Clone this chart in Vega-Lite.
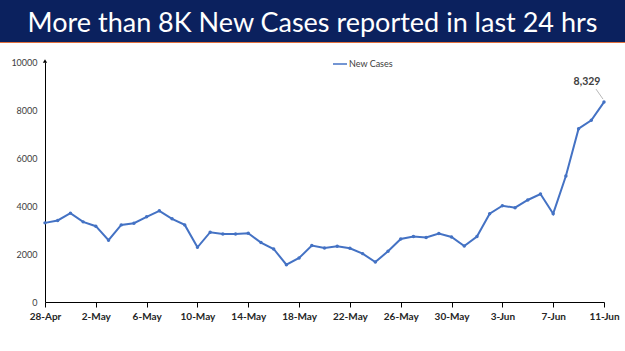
{
  "$schema": "https://vega.github.io/schema/vega-lite/v6.json",
  "padding": {"left": 0, "top": 0, "right": 0, "bottom": 29},
  "background": "white",
  "config": {"view": {"stroke": null}, "font": "Lato"},
  "spacing": 0,
  "bounds": "flush",
  "vconcat": [
    {
      "width": 625,
      "height": 42,
      "view": {"fill": "#0b215e", "stroke": null},
      "data": {"values": [{"title": "More than 8K New Cases reported in last 24 hrs"}]},
      "mark": {"type": "text", "font": "Lato", "fontSize": 27, "color": "white", "baseline": "alphabetic", "dy": 11},
      "encoding": {"text": {"field": "title"}}
    },
    {
      "width": 625,
      "height": 1,
      "view": {"fill": "#e2703c", "stroke": null},
      "data": {"values": []},
      "mark": {"type": "text"},
      "encoding": {"text": {"field": "t"}}
    },
    {
      "width": 625,
      "height": 19,
      "data": {"values": []},
      "mark": {"type": "text"},
      "encoding": {"text": {"field": "t"}}
    },
    {
      "spacing": 0,
      "bounds": "flush",
      "hconcat": [
        {
          "width": 45,
          "height": 240,
          "data": {"values": []},
          "mark": {"type": "text"},
          "encoding": {"text": {"field": "t"}}
        },
        {
          "width": 559,
          "height": 240,
          "data": {"values": [
            {"date": "28-Apr", "cases": 3297},
            {"date": "29-Apr", "cases": 3397},
            {"date": "30-Apr", "cases": 3703},
            {"date": "1-May", "cases": 3339},
            {"date": "2-May", "cases": 3159},
            {"date": "3-May", "cases": 2573},
            {"date": "4-May", "cases": 3213},
            {"date": "5-May", "cases": 3285},
            {"date": "6-May", "cases": 3548},
            {"date": "7-May", "cases": 3800},
            {"date": "8-May", "cases": 3465},
            {"date": "9-May", "cases": 3213},
            {"date": "10-May", "cases": 2280},
            {"date": "11-May", "cases": 2908},
            {"date": "12-May", "cases": 2837},
            {"date": "13-May", "cases": 2837},
            {"date": "14-May", "cases": 2866},
            {"date": "15-May", "cases": 2477},
            {"date": "16-May", "cases": 2209},
            {"date": "17-May", "cases": 1556},
            {"date": "18-May", "cases": 1833},
            {"date": "19-May", "cases": 2350},
            {"date": "20-May", "cases": 2251},
            {"date": "21-May", "cases": 2322},
            {"date": "22-May", "cases": 2238},
            {"date": "23-May", "cases": 2016},
            {"date": "24-May", "cases": 1665},
            {"date": "25-May", "cases": 2113},
            {"date": "26-May", "cases": 2628},
            {"date": "27-May", "cases": 2728},
            {"date": "28-May", "cases": 2686},
            {"date": "29-May", "cases": 2853},
            {"date": "30-May", "cases": 2711},
            {"date": "31-May", "cases": 2335},
            {"date": "1-Jun", "cases": 2728},
            {"date": "2-Jun", "cases": 3680},
            {"date": "3-Jun", "cases": 4010},
            {"date": "4-Jun", "cases": 3930},
            {"date": "5-Jun", "cases": 4250},
            {"date": "6-Jun", "cases": 4500},
            {"date": "7-Jun", "cases": 3680},
            {"date": "8-Jun", "cases": 5250},
            {"date": "9-Jun", "cases": 7220},
            {"date": "10-Jun", "cases": 7570},
            {"date": "11-Jun", "cases": 8329}
          ]},
          "encoding": {
            "x": {
              "field": "date", "type": "ordinal", "sort": null,
              "scale": {"type": "point", "padding": 0},
              "axis": {
                "title": null, "labelAngle": 0,
                "values": ["28-Apr", "2-May", "6-May", "10-May", "14-May", "18-May", "22-May", "26-May", "30-May", "3-Jun", "7-Jun", "11-Jun"],
                "labelFont": "Lato", "labelFontWeight": "bold", "labelFontSize": 10, "labelColor": "#262626",
                "tickSize": 5, "tickColor": "#000000", "domainColor": "#000000", "labelPadding": 4, "grid": false
              }
            },
            "y": {
              "field": "cases", "type": "quantitative",
              "scale": {"domain": [0, 10000], "nice": false},
              "axis": {
                "title": null, "values": [0, 2000, 4000, 6000, 8000, 10000], "format": "d", "grid": false, "ticks": false,
                "domainColor": "#000000", "labelColor": "#404040", "labelFontSize": 9, "labelFont": "Lato",
                "labelPadding": 8
              }
            }
          },
          "layer": [
            {
              "mark": {"type": "line", "strokeWidth": 2, "point": {"size": 12, "filled": true}},
              "encoding": {
                "color": {
                  "datum": "New Cases", "type": "nominal",
                  "scale": {"domain": ["New Cases"], "range": ["#4472c4"]},
                  "legend": {
                    "title": null, "orient": "none", "legendX": 332, "legendY": 56, "direction": "horizontal",
                    "symbolType": "stroke", "symbolSize": 196, "symbolStrokeWidth": 1.5,
                    "labelFont": "Lato", "labelFontSize": 9, "labelColor": "#404040", "labelOffset": 1
                  }
                }
              }
            },
            {
              "data": {"values": [{"d": "28-Apr", "v": 10000}]},
              "mark": {"type": "point", "shape": "triangle-up", "size": 18, "filled": true, "color": "#000000", "opacity": 1, "yOffset": -1},
              "encoding": {"x": {"field": "d", "type": "ordinal"}, "y": {"field": "v", "type": "quantitative"}}
            },
            {
              "transform": [{"filter": "datum.date == '11-Jun'"}],
              "mark": {"type": "text", "fontWeight": "bold", "fontSize": 10.5, "color": "#404040", "dx": -17, "dy": -20, "font": "Lato"},
              "encoding": {"text": {"field": "cases", "type": "quantitative", "format": ","}}
            },
            {
              "transform": [{"filter": "datum.date == '11-Jun'"}],
              "mark": {"type": "rule", "color": "#a6a6a6", "strokeWidth": 0.8, "xOffset": -8, "yOffset": -13, "x2Offset": -1, "y2Offset": -3},
              "encoding": {"x2": {"field": "date"}, "y2": {"field": "cases"}}
            }
          ]
        }
      ]
    }
  ]
}
